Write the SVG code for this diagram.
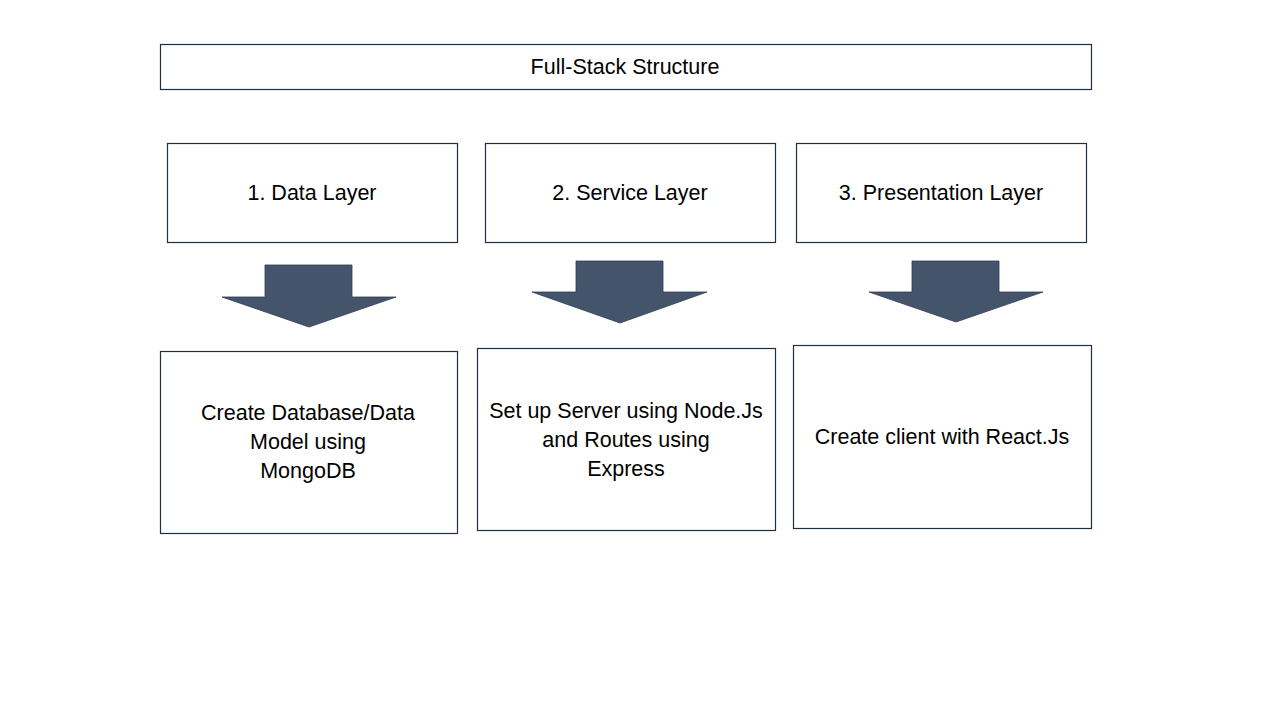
<svg xmlns="http://www.w3.org/2000/svg" width="1280" height="720" viewBox="0 0 1280 720">
<style>
.box{fill:#ffffff;stroke:#1f2f45;stroke-width:1.2}
.arr{fill:#44546a;stroke:#2f3e52;stroke-width:0.8}
text{font-family:"Liberation Sans",Arial,sans-serif;font-size:21.5px;fill:#000;text-anchor:middle;dominant-baseline:central}
</style>
<rect width="1280" height="720" fill="#ffffff"/>
<g id="title">
<rect class="box" x="160.5" y="44.5" width="931" height="45"/>
<text x="625" y="67">Full-Stack Structure</text>
</g>
<g id="data-layer">
<rect class="box" x="167.5" y="143.5" width="290" height="99"/>
<text x="312" y="193">1. Data Layer</text>
</g>
<g id="service-layer">
<rect class="box" x="485.5" y="143.5" width="290" height="99"/>
<text x="630" y="193">2. Service Layer</text>
</g>
<g id="presentation-layer">
<rect class="box" x="796.5" y="143.5" width="290" height="99"/>
<text x="941" y="193">3. Presentation Layer</text>
</g>
<g id="connectors">
<polygon class="arr" points="265,265 352,265 352,297 396,297 309,327 222,297 265,297"/>
<polygon class="arr" points="576,261 663,261 663,292 707,292 620,323 532,292 576,292"/>
<polygon class="arr" points="912,261 999,261 999,292 1043,292 956,322 869,292 912,292"/>
</g>
<g id="data-detail">
<rect class="box" x="160.5" y="351.5" width="297" height="182"/>
<text x="308" y="413">Create Database/Data</text>
<text x="308" y="442">Model using</text>
<text x="308" y="471">MongoDB</text>
</g>
<g id="service-detail">
<rect class="box" x="477.5" y="348.5" width="298" height="182"/>
<text x="626" y="411">Set up Server using Node.Js</text>
<text x="626" y="440">and Routes using</text>
<text x="626" y="469">Express</text>
</g>
<g id="presentation-detail">
<rect class="box" x="793.5" y="345.5" width="298" height="183"/>
<text x="942" y="437">Create client with React.Js</text>
</g>
</svg>
